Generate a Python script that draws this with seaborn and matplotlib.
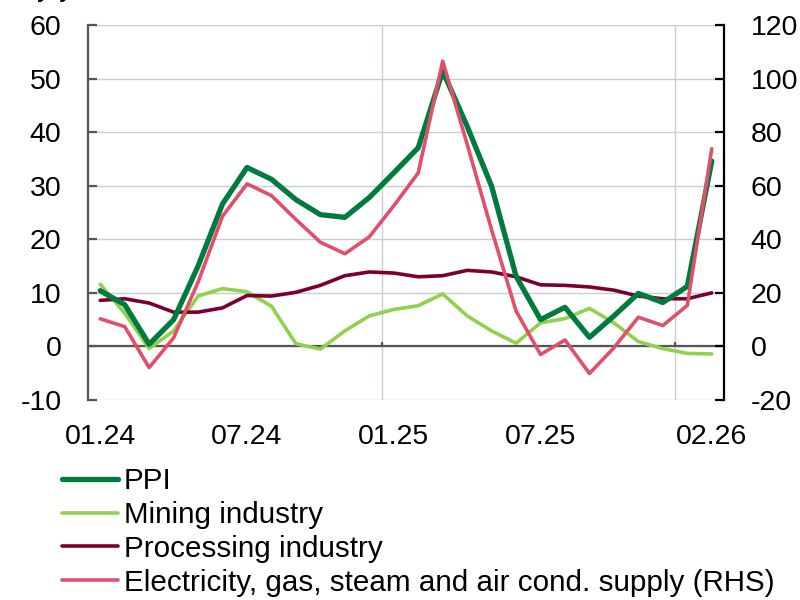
#!/usr/bin/env python3
"""
PPI and its components, y/y, monthly 01.24 - 02.26.
"""
import matplotlib
matplotlib.use("Agg")
import matplotlib.pyplot as plt
import pandas as pd
import seaborn as sns

months = pd.period_range("2024-01", "2026-02", freq="M").strftime("%m.%y").tolist()
tick_labels = ["01.24", "07.24", "01.25", "07.25", "02.26"]

ppi = [10.4, 7.8, 0.4, 5.0, 15.0, 26.6, 33.4, 31.2, 27.4, 24.6, 24.1, 27.8,
       32.4, 37.1, 51.4, 41.1, 29.9, 13.1, 5.0, 7.3, 1.7, 5.7, 9.9, 8.2,
       11.2, 34.6]
mining = [11.6, 6.2, -0.4, 2.9, 9.4, 10.8, 10.2, 7.5, 0.5, -0.5, 2.9, 5.7,
          6.9, 7.6, 9.8, 5.7, 2.9, 0.6, 4.4, 5.2, 7.1, 4.4, 0.9, -0.4,
          -1.3, -1.4]
processing = [8.6, 8.9, 8.1, 6.4, 6.4, 7.2, 9.5, 9.4, 10.1, 11.4, 13.2, 13.9,
              13.7, 13.0, 13.2, 14.2, 13.9, 13.0, 11.5, 11.4, 11.1, 10.5, 9.4, 8.9,
              8.9, 10.0]
electricity = [10.3, 7.4, -7.9, 3.2, 24.0, 48.6, 60.7, 56.3, 47.4, 38.9, 34.6, 40.9,
               52.5, 64.8, 106.5, 75.5, 43.5, 13.2, -3.0, 2.4, -10.1, -0.5, 10.9, 7.8,
               15.3, 73.8]

names = ["PPI", "Mining industry", "Processing industry",
         "Electricity, gas, steam and air cond. supply (RHS)"]
colors = ["#007A3D", "#92D050", "#7A0032", "#E0506A"]

df = pd.DataFrame({"idx": range(len(months)), "month": months,
                   "ppi": ppi, "mining": mining, "processing": processing,
                   "electricity": electricity})

sns.set_theme(style="white")
plt.rcParams["font.family"] = ["Liberation Sans", "DejaVu Sans"]
plt.rcParams["axes.unicode_minus"] = False
plt.rcParams["text.color"] = "black"

fig = plt.figure(figsize=(8, 6), dpi=100)
ax = fig.add_axes([0.11, 1 - 400 / 600, 0.795, 375 / 600])
ax2 = ax.twinx()

# gridlines
for v in range(-10, 61, 10):
    ax.axhline(v, color="#C8CDD2", lw=1, zorder=0)
year_starts = [i - 0.5 for i, m in enumerate(months) if m.startswith("01") and i > 0]
for b in year_starts:
    ax.axvline(b, color="#C8CDD2", lw=1, zorder=0)
ax.axhline(0, color="#555555", lw=1.6, zorder=1)
ax.vlines(year_starts, 0, 0.9, color="#555555", lw=1.6, zorder=1)

sns.lineplot(data=df, x="idx", y="mining", ax=ax, color=colors[1], lw=2.6, zorder=3)
sns.lineplot(data=df, x="idx", y="processing", ax=ax, color=colors[2], lw=2.6, zorder=3)
sns.lineplot(data=df, x="idx", y="ppi", ax=ax, color=colors[0], lw=3.8, zorder=4)
sns.lineplot(data=df, x="idx", y="electricity", ax=ax2, color=colors[3], lw=2.6, zorder=5)

ax.set_xlim(-0.5, len(months) - 0.5)
ax.set_ylim(-10, 60)
ax.set_yticks(range(-10, 61, 10))
ax2.set_ylim(-20, 120)
ax2.set_yticks(range(-20, 121, 20))
ax.set_xticks([months.index(t) for t in tick_labels])
ax.set_xticklabels(tick_labels)
ax.set_xlabel("")
ax.set_ylabel("")
ax2.set_ylabel("")

ax.tick_params(axis="x", length=0, pad=17, labelsize=20.5, labelcolor="black")
ax.tick_params(axis="y", direction="in", length=6.5, width=1.6, color="#555555",
               labelsize=20.5, pad=19, left=True, labelcolor="black")
ax2.tick_params(axis="y", direction="in", length=6.5, width=1.6, color="black",
                labelsize=20.5, pad=19, right=True, labelcolor="black")

for a in (ax, ax2):
    for s in a.spines.values():
        s.set_visible(False)
    a.set_facecolor("none")
ax.spines["left"].set_visible(True)
ax.spines["left"].set_color("#555555")
ax.spines["left"].set_linewidth(1.6)
ax2.spines["right"].set_visible(True)
ax2.spines["right"].set_color("black")
ax2.spines["right"].set_linewidth(1.6)

# unit label, mostly cut off at the top edge as in the source
fig.text(0.005, 1 + 4 / 600, "% y/y", fontsize=20.5, va="baseline", ha="left",
         color="black")

handles = [plt.Line2D([], [], color=colors[0], lw=3.8),
           plt.Line2D([], [], color=colors[1], lw=2.6),
           plt.Line2D([], [], color=colors[2], lw=2.6),
           plt.Line2D([], [], color=colors[3], lw=2.6)]
fig.legend(handles, names, loc="upper left", bbox_to_anchor=(62 / 800, 1 - 467 / 600),
           frameon=False, fontsize=21.3, handlelength=1.9, handletextpad=0.2,
           labelspacing=0.2, borderpad=0, borderaxespad=0, labelcolor="black")

plt.savefig("out.png", dpi=100)
